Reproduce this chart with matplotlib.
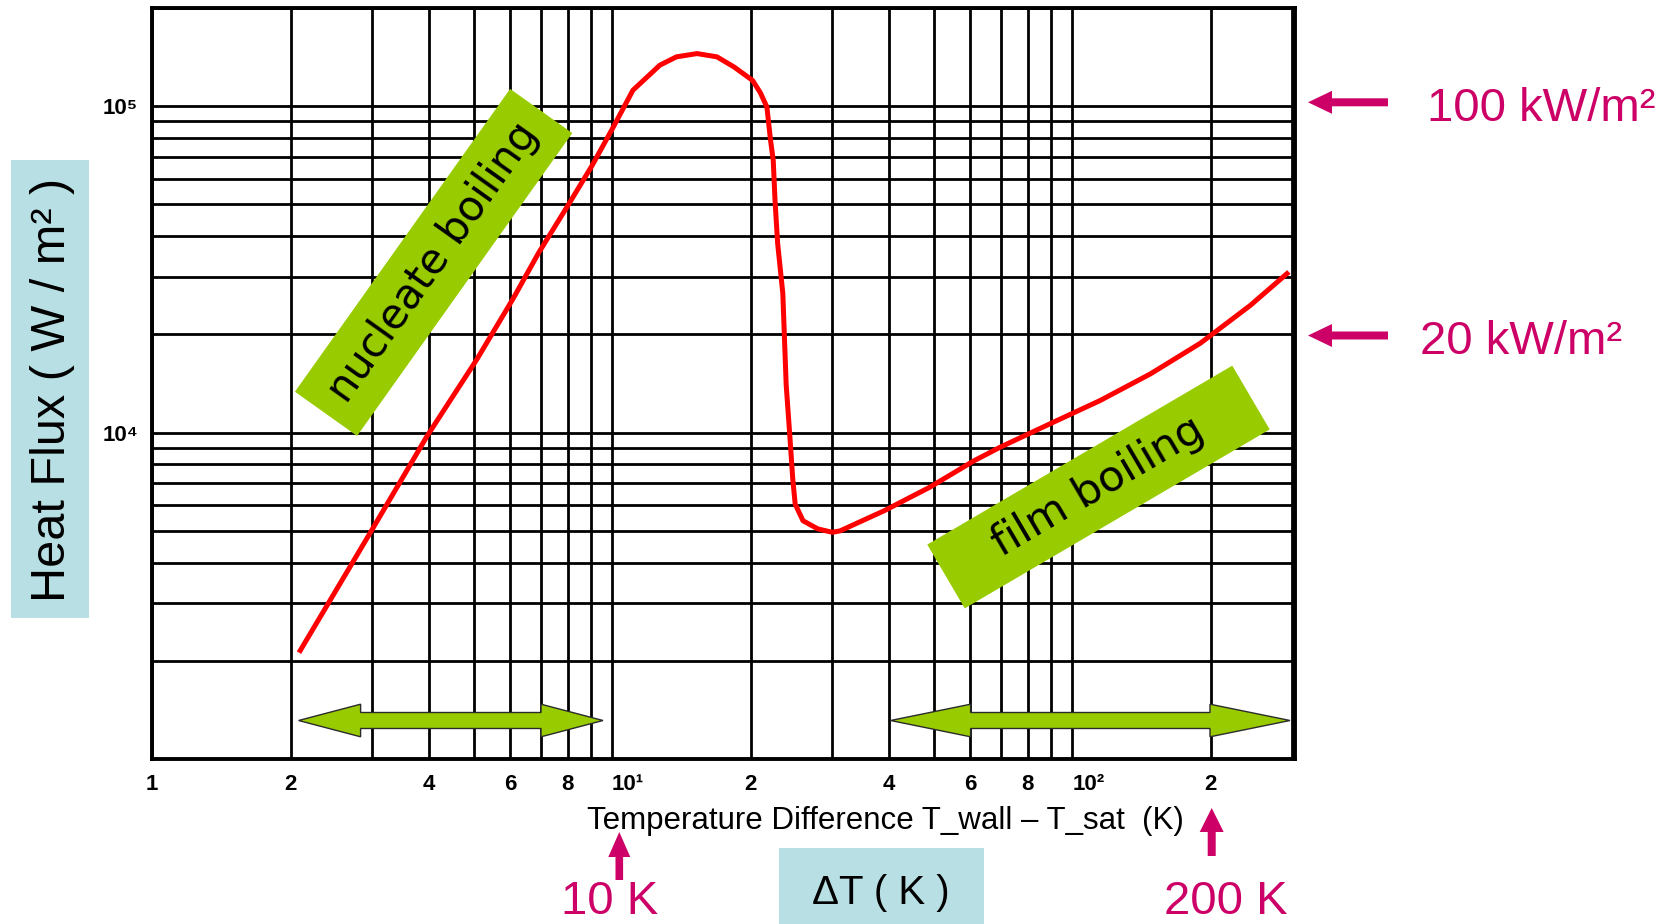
"""Boiling curve: heat flux vs wall superheat, log-log, with regime annotations."""
import matplotlib

matplotlib.use("Agg")
import matplotlib.pyplot as plt
from matplotlib.patches import FancyArrow, Polygon, Rectangle
import numpy as np

plt.rcParams["font.family"] = ["Liberation Sans", "DejaVu Sans"]

# boiling curve (K, W/m2)
delta_t = [2.1, 2.4, 2.98, 3.96, 5.08, 6.1, 6.92, 7.97, 9.03, 10.0, 11.1, 12.7, 13.8,
           15.3, 16.9, 18.4, 20.2, 21.0, 21.7, 22.1, 22.4, 22.6, 22.9, 23.5, 23.9,
           24.3, 24.7, 25.0, 26.0, 28.0, 30.1, 31.3, 39.1, 49.0, 61.2, 69.7, 89.6,
           115, 148, 190, 244, 293]
heat_flux = [2150, 2950, 4930, 9750, 16750, 25800, 35500, 49000, 65500, 85000,
             112000, 133600, 141700, 145000, 141700, 132000, 120000, 110000, 99500,
             78700, 68300, 51500, 38000, 26700, 14000, 10100, 7210, 6040, 5370, 5070,
             4950, 5000, 5770, 6800, 8200, 9020, 10650, 12540, 15140, 18800, 24550,
             30700]

x_ticks = [1, 2, 4, 6, 8, 10, 20, 40, 60, 80, 100, 200]
x_tick_labels = ["1", "2", "4", "6", "8", "10¹", "2", "4", "6", "8", "10²", "2"]
y_ticks = [1e4, 1e5]
y_tick_labels = ["10⁴", "10⁵"]

GREEN = "#99cc00"
MAGENTA = "#cc0066"
LIGHT_BLUE = "#b8dfe3"
W, H = 1670, 924


def double_arrow(ax, x0, x1, y, head_len, head_half, shaft_half):
    pts = [(x0, y), (x0 + head_len, y - head_half), (x0 + head_len, y - shaft_half),
           (x1 - head_len, y - shaft_half), (x1 - head_len, y - head_half), (x1, y),
           (x1 - head_len, y + head_half), (x1 - head_len, y + shaft_half),
           (x0 + head_len, y + shaft_half), (x0 + head_len, y + head_half)]
    ax.add_patch(Polygon(pts, closed=True, fc=GREEN, ec="#2b2b2b", lw=1.0))


def banner(ax, cx, cy, length, width, angle, text, size):
    a = np.deg2rad(angle)
    u = np.array([np.cos(a), -np.sin(a)]) * length / 2
    v = np.array([np.sin(a), np.cos(a)]) * width / 2
    c = np.array([cx, cy])
    pts = [c - u - v, c + u - v, c + u + v, c - u + v]
    ax.add_patch(Polygon(pts, closed=True, fc=GREEN, ec="none"))
    ax.text(cx, cy, text, rotation=angle, rotation_mode="anchor", ha="center",
            va="center", fontsize=size, family="DejaVu Sans", color="black")


def arrow(ax, x0, y0, x1, y1, head_len, head_half, shaft_half):
    ax.add_patch(FancyArrow(x0, y0, x1 - x0, y1 - y0, width=2 * shaft_half,
                            head_width=2 * head_half, head_length=head_len,
                            length_includes_head=True, fc=MAGENTA, ec="none"))


fig = plt.figure(figsize=(W / 100, H / 100), dpi=100)
ax = fig.add_axes([152 / W, (H - 759) / H, (1295 - 152) / W, (759 - 8) / H])
ax.set_xscale("log")
ax.set_yscale("log")
ax.set_xlim(1, 305)
ax.set_ylim(1e3, 2e5)

ax.set_xticks(x_ticks, x_tick_labels, fontsize=16, fontweight="bold")
ax.set_xticks([v * d for d in (1, 10, 100) for v in range(2, 10) if v * d < 305
               and v * d not in x_ticks], minor=True)
ax.set_yticks(y_ticks, y_tick_labels, fontsize=16, fontweight="bold")
ax.set_yticks([v * d for d in (1e3, 1e4, 1e5) for v in range(2, 10) if v * d <= 2e5],
              minor=True)
ax.tick_params(which="both", length=0)
ax.tick_params(axis="x", pad=11)
ax.tick_params(axis="y", pad=10)
for lab in ax.get_xticklabels():
    if lab.get_text().startswith("10"):
        lab.set_ha("left")
ax.grid(which="both", color="black", lw=2.0)
for s in ax.spines.values():
    s.set_linewidth(2.8)

ax.plot(delta_t, heat_flux, color="#ff0000", lw=3.6, zorder=3)

# overlay in pixel coordinates for the slide annotations
ov = fig.add_axes([0, 0, 1, 1], zorder=5)
ov.set_xlim(0, W)
ov.set_ylim(H, 0)
ov.axis("off")

banner(ov, 433.6, 262.4, 371.5, 76.3, 54.6, "nucleate boiling", 30)
banner(ov, 1098.5, 487, 353.6, 74, 30.4, "film boiling", 31)

double_arrow(ov, 298.6, 603, 720.5, 62, 16.3, 8)
double_arrow(ov, 890.6, 1290, 720.5, 80, 16.3, 8)

ov.add_patch(Rectangle((11, 160), 78, 458, fc=LIGHT_BLUE, ec="none"))
ov.text(53, 390, "Heat Flux ( W / m² )", rotation=90, ha="center", va="center",
        fontsize=35)

ov.add_patch(Rectangle((779, 848), 205, 80, fc=LIGHT_BLUE, ec="none"))
ov.text(881, 904, "ΔT ( K )", ha="center", va="baseline", fontsize=29)

ov.text(885, 829, "Temperature Difference T_wall – T_sat  (K)", ha="center",
        va="baseline", fontsize=22.5)

arrow(ov, 1388, 102.3, 1308, 102.3, 24, 11.5, 4)
ov.text(1426.7, 120.7, "100 kW/m²", ha="left", va="baseline", fontsize=34,
        color=MAGENTA)
arrow(ov, 1388, 335.5, 1308, 335.5, 24, 11.5, 4)
ov.text(1420, 353.5, "20 kW/m²", ha="left", va="baseline", fontsize=34,
        color=MAGENTA)

arrow(ov, 619.3, 880, 619.3, 832, 25, 11, 3.8)
ov.text(609.7, 914, "10 K", ha="center", va="baseline", fontsize=34, color=MAGENTA)
arrow(ov, 1211.7, 856, 1211.7, 808, 24, 12, 4)
ov.text(1226, 914, "200 K", ha="center", va="baseline", fontsize=34, color=MAGENTA)

fig.savefig("out.png", dpi=100)
